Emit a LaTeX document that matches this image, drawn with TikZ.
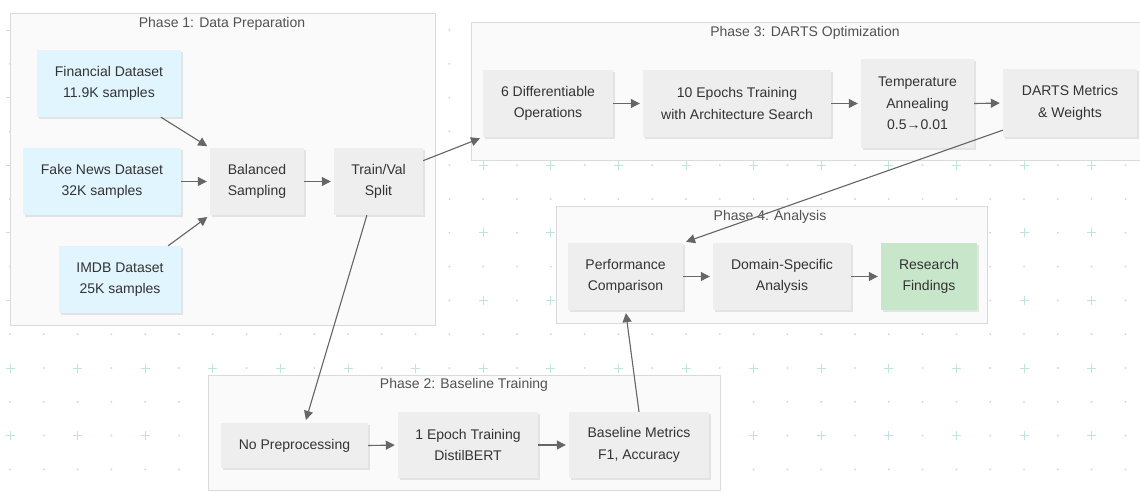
\documentclass[tikz,border=0pt]{standalone}
\usepackage{fontspec}
\setmainfont{Liberation Sans}
\usetikzlibrary{arrows.meta,shadows}

\definecolor{boxgray}{HTML}{EEEEEE}
\definecolor{dsblue}{HTML}{E1F5FE}
\definecolor{findgreen}{HTML}{C8E6C9}
\definecolor{phasefill}{HTML}{FAFAFA}
\definecolor{phaseline}{HTML}{DADADA}
\definecolor{arrgray}{HTML}{666666}
\definecolor{txtgray}{HTML}{333333}
\definecolor{dotgray}{HTML}{D6D6D6}
\definecolor{plusteal}{HTML}{BFE3E0}

\begin{document}
\begin{tikzpicture}[x=1pt,y=-1pt,
		box/.style={fill=boxgray, text=txtgray, align=center, inner sep=0pt,
			font=\fontsize{14}{21.5}\selectfont,
			drop shadow={shadow xshift=1.5pt, shadow yshift=-1.5pt, opacity=0.18}},
		dataset/.style={box, fill=dsblue},
		finding/.style={box, fill=findgreen},
		phase/.style={draw=phaseline, fill=phasefill, line width=0.8pt,
			drop shadow={shadow xshift=1pt, shadow yshift=-1pt, opacity=0.12}},
		phasetitle/.style={text=txtgray!85, font=\fontsize{14}{16}\selectfont, inner sep=0pt},
		arr/.style={draw=arrgray, line width=1.1pt, shorten >=3pt,
			-{Triangle[length=9pt, width=9pt]}, fill=arrgray},
		gridplus/.style={draw=plusteal, line width=0.9pt}]
	\useasboundingbox (0,0) rectangle (1140,493);

	% dotted background grid
	\foreach \i in {0,...,33}{
		\foreach \j in {-10,...,3}{
			\pgfmathsetmacro\gx{10+33.8*\i}
			\pgfmathsetmacro\gy{368+33.8*\j}
			\ifodd\i
				\fill[dotgray] (\gx,\gy) circle (1.1);
			\else\ifodd\j
				\fill[dotgray] (\gx,\gy) circle (1.1);
			\else
				\draw[gridplus] (\gx,\gy) +(-4.5,0) -- +(4.5,0) +(0,-4.5) -- +(0,4.5);
			\fi\fi
		}
	}

	% phase frames
	\draw[phase] (10,13) rectangle (435,325);
	\draw[phase] (471,22) rectangle (1160,160);
	\draw[phase] (556,206) rectangle (987,323);
	\draw[phase] (208,375) rectangle (720,490);
	\node[phasetitle] (t1) at (222,24) {Phase 1: Data Preparation};
	\node[phasetitle] (t3) at (805,33) {Phase 3: DARTS Optimization};
	\node[phasetitle] (t4) at (770,217) {Phase 4: Analysis};
	\node[phasetitle] (t2) at (464,385) {Phase 2: Baseline Training};

	% phase 1
	\node[dataset, minimum width=144, minimum height=67] (fin) at (109,83.5) {Financial Dataset\\11.9K samples};
	\node[dataset, minimum width=158, minimum height=67] (fake) at (102,181.5) {Fake News Dataset\\32K samples};
	\node[dataset, minimum width=122, minimum height=67] (imdb) at (120,279.5) {IMDB Dataset\\25K samples};
	\node[box, minimum width=94, minimum height=67] (bal) at (257,181.5) {Balanced\\Sampling};
	\node[box, minimum width=89, minimum height=67] (split) at (378.5,181.5) {Train/Val\\Split};

	% phase 3
	\node[box, minimum width=130, minimum height=67] (ops) at (548,103.5) {6 Differentiable\\Operations};
	\node[box, minimum width=188, minimum height=67] (epochs) at (737,103.5) {10 Epochs Training\\with Architecture Search};
	\node[box, minimum width=113, minimum height=89] (temp) at (917.5,103.5) {Temperature\\Annealing\\0.5→0.01};
	\node[box, minimum width=134, minimum height=68] (dmet) at (1070,103) {DARTS Metrics\\\& Weights};

	% phase 4
	\node[box, minimum width=115, minimum height=67] (perf) at (625.5,276.5) {Performance\\Comparison};
	\node[box, minimum width=138, minimum height=67] (domain) at (782,276.5) {Domain-Specific\\Analysis};
	\node[finding, minimum width=96, minimum height=67] (find) at (929,276.5) {Research\\Findings};

	% phase 2
	\node[box, minimum width=147, minimum height=45] (noprep) at (294.5,445.5) {No Preprocessing};
	\node[box, minimum width=140, minimum height=66] (epoch1) at (468,445) {1 Epoch Training\\DistilBERT};
	\node[box, minimum width=140, minimum height=66] (bmet) at (639,445) {Baseline Metrics\\F1, Accuracy};

	\draw[arr] (fin.-33) -- (bal.north west);
	\draw[arr] (fake.east) -- (bal.west);
	\draw[arr] (imdb.35.5) -- (bal.south west);
	\draw[arr] (bal.east) -- (split.west);
	\draw[arr] (split.25) -- (ops.south west);
	\draw[arr] (split.-109) -- (noprep.65);
	\draw[arr] (ops.east) -- (epochs.west);
	\draw[arr] (epochs.east) -- (temp.west);
	\draw[arr] (temp.east) -- (dmet.west);
	\draw[arr] (dmet.202) -- (perf.north east);
	\draw[arr] (perf.east) -- (domain.west);
	\draw[arr] (domain.east) -- (find.west);
	\draw[arr] (noprep.east) -- (epoch1.west);
	\draw[arr] (epoch1.east) -- (bmet.west);
	\draw[arr] (bmet.north) -- (perf.south);
\end{tikzpicture}
\end{document}
